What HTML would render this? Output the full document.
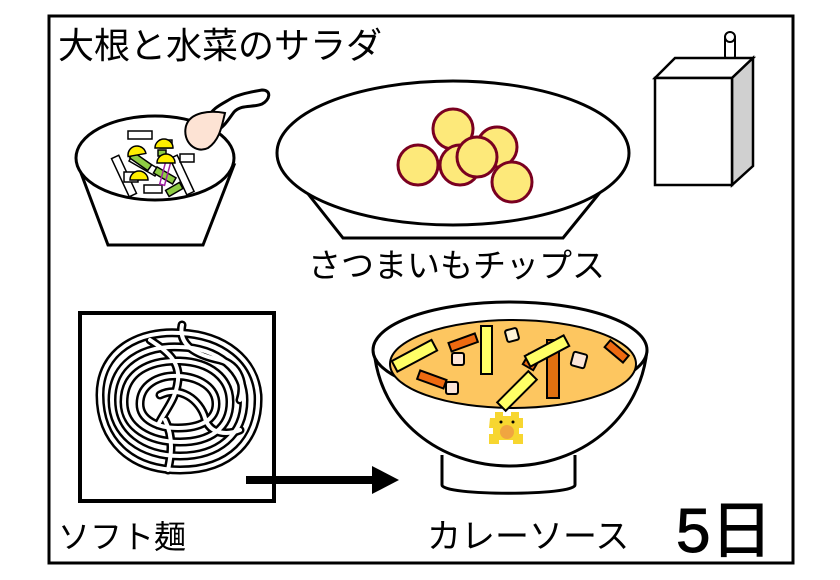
<!DOCTYPE html>
<html><head><meta charset="utf-8"><style>
html,body{margin:0;padding:0;background:#fff;}
svg{display:block}
text{font-family:"Liberation Sans","Noto Sans CJK JP",sans-serif;fill:#000}
</style></head><body>
<svg width="840" height="580" viewBox="0 0 840 580" xmlns="http://www.w3.org/2000/svg">
<rect x="49" y="16" width="744" height="547" fill="#fff" stroke="#000" stroke-width="3"/>
<text x="58" y="58" font-size="36">大根と水菜のサラダ</text>

<!-- salad bowl -->
<path d="M78 165 L108 245 L203 245 L234 165 Z" fill="#fff" stroke="#000" stroke-width="3"/>
<ellipse cx="155" cy="158" rx="79" ry="42" fill="#fff" stroke="#000" stroke-width="3"/>
<g stroke="#000" stroke-width="1.5">
<rect x="128" y="131" width="24" height="8" fill="#fff"/>
<rect x="160" y="140" width="12" height="8" fill="#fff"/>
<rect x="120" y="155" width="8" height="42" fill="#fff" transform="rotate(-25 124 176)"/>
<rect x="140" y="150" width="8" height="30" fill="#fff" transform="rotate(-60 144 165)"/>
<rect x="178" y="155" width="8" height="40" fill="#fff" transform="rotate(-25 182 175)"/>
<rect x="180" y="154" width="14" height="8" fill="#fff"/>
<rect x="124" y="172" width="14" height="10" fill="#fff"/>
<rect x="144" y="185" width="18" height="8" fill="#fff"/>
<rect x="130" y="158" width="22" height="7" fill="#8fcc44" transform="rotate(35 141 161)"/>
<rect x="154" y="172" width="22" height="7" fill="#8fcc44" transform="rotate(30 165 175)"/>
<rect x="166" y="186" width="16" height="7" fill="#8fcc44" transform="rotate(-30 174 189)"/>
<rect x="158" y="150" width="8" height="6" fill="#8fcc44"/>
<rect x="163" y="160" width="5" height="25" fill="none" stroke="#a020a0" transform="rotate(15 165 172)"/>
<path d="M128 155 a9 9 0 0 1 18 0 Z" fill="#ffee00" transform="rotate(-10 137 155)"/>
<path d="M155 148 a9 9 0 0 1 18 0 Z" fill="#ffee00"/>
<path d="M157 163 a9 9 0 0 1 18 0 Z" fill="#ffee00"/>
<path d="M130 180 a9 9 0 0 1 18 0 Z" fill="#ffee00"/>
</g>
<!-- spoon -->
<path d="M208 118 C212 108 222 104 232 98 C240 94 250 92 262 90 C272 90 270 100 262 104 C252 108 242 104 234 112 C228 120 224 128 214 132" fill="#fff" stroke="#000" stroke-width="3"/>
<path d="M186 126 C190 112 210 110 225 113 C222 125 220 140 208 148 C196 154 182 142 186 126 Z" fill="#fde3d4" stroke="#000" stroke-width="2"/>

<!-- chips plate -->
<path d="M305 190 L343 238 L563 238 L602 190 Z" fill="#fff" stroke="#000" stroke-width="3"/>
<ellipse cx="453" cy="153" rx="176" ry="72" fill="#fff" stroke="#000" stroke-width="3"/>
<g fill="#fde97a" stroke="#7a0020" stroke-width="3">
<circle cx="453" cy="129" r="20"/>
<circle cx="497" cy="147" r="20"/>
<circle cx="418" cy="165" r="20"/>
<circle cx="460" cy="165" r="20"/>
<circle cx="477" cy="157" r="20"/>
<circle cx="512" cy="182" r="20"/>
</g>
<text x="308" y="277" font-size="33">さつまいもチップス</text>

<!-- milk carton -->
<rect x="725" y="33" width="10" height="28" rx="5" fill="#fff" stroke="#000" stroke-width="2"/>
<circle cx="730" cy="37" r="5" fill="#fff" stroke="#000" stroke-width="2"/>
<path d="M655 78 L675 58 L753 58 L732 78 Z" fill="#fff" stroke="#000" stroke-width="2.5"/>
<path d="M732 78 L753 58 L753 166 L732 185 Z" fill="#d0d0d0" stroke="#000" stroke-width="2.5"/>
<rect x="655" y="78" width="77" height="107" fill="#fff" stroke="#000" stroke-width="2.5"/>

<!-- noodles -->
<rect x="80" y="313" width="194" height="188" fill="#fff" stroke="#000" stroke-width="4"/>
<g fill="none" stroke-linecap="round">
<g stroke="#000" stroke-width="9">
<path d="M100 395 C100 350 140 330 180 333 C225 335 255 360 258 395 C260 440 230 470 180 470 C130 470 100 440 100 395"/>
<path d="M112 400 C112 362 145 345 180 347 C218 348 244 370 244 400 C244 435 218 456 180 456 C142 456 112 435 112 400"/>
<path d="M124 402 C124 372 150 360 180 361 C210 362 230 378 230 402 C230 428 210 442 180 442 C150 442 124 428 124 402"/>
<path d="M140 404 C140 385 158 375 178 376 C200 377 216 388 216 404 C216 420 200 428 178 428 C158 428 140 420 140 404"/>
<path d="M182 325 C178 345 196 355 220 360 C240 365 245 385 240 400"/>
<path d="M150 340 C165 350 180 360 178 380 C176 400 165 410 158 425"/>
<path d="M160 395 C180 385 200 400 205 418 C210 435 228 435 240 430"/>
<path d="M165 420 C175 440 170 460 168 470"/>
</g>
<g stroke="#fff" stroke-width="4">
<path d="M100 395 C100 350 140 330 180 333 C225 335 255 360 258 395 C260 440 230 470 180 470 C130 470 100 440 100 395"/>
<path d="M112 400 C112 362 145 345 180 347 C218 348 244 370 244 400 C244 435 218 456 180 456 C142 456 112 435 112 400"/>
<path d="M124 402 C124 372 150 360 180 361 C210 362 230 378 230 402 C230 428 210 442 180 442 C150 442 124 428 124 402"/>
<path d="M140 404 C140 385 158 375 178 376 C200 377 216 388 216 404 C216 420 200 428 178 428 C158 428 140 420 140 404"/>
<path d="M182 325 C178 345 196 355 220 360 C240 365 245 385 240 400"/>
<path d="M150 340 C165 350 180 360 178 380 C176 400 165 410 158 425"/>
<path d="M160 395 C180 385 200 400 205 418 C210 435 228 435 240 430"/>
<path d="M165 420 C175 440 170 460 168 470"/>
</g>
</g>
<text x="58" y="548" font-size="32">ソフト麺</text>

<!-- arrow -->
<rect x="246" y="476" width="130" height="8" fill="#000"/>
<path d="M372 466 L399 480 L372 494 Z" fill="#000"/>

<!-- curry bowl -->
<path d="M442 455 L442 485 C442 496 575 496 575 485 L575 455" fill="#fff" stroke="#000" stroke-width="3"/>
<path d="M374 350 C380 420 440 466 510 466 C580 466 640 420 647 350" fill="#fff" stroke="#000" stroke-width="3"/>
<ellipse cx="510" cy="350" rx="137" ry="48" fill="#fff" stroke="#000" stroke-width="3"/>
<ellipse cx="513" cy="364" rx="123" ry="44" fill="#fdc660" stroke="#000" stroke-width="2"/>
<g stroke="#000" stroke-width="2">
<rect x="392" y="350" width="45" height="12" fill="#ffff66" transform="rotate(-28 414 356)"/>
<rect x="449" y="338" width="28" height="9" fill="#ee6a10" transform="rotate(-20 463 342)"/>
<rect x="481" y="326" width="11" height="48" fill="#ffff66"/>
<rect x="506" y="329" width="12" height="12" rx="2" fill="#fff3d8" transform="rotate(-15 512 335)"/>
<rect x="452" y="353" width="12" height="12" rx="2" fill="#fde6d8"/>
<rect x="418" y="375" width="28" height="9" fill="#ee6a10" transform="rotate(20 432 379)"/>
<rect x="446" y="382" width="12" height="12" rx="2" fill="#fde6d8"/>
<rect x="547" y="340" width="12" height="58" fill="#e07010"/>
<rect x="525" y="356" width="12" height="12" fill="#ee6a10" transform="rotate(30 531 362)"/>
<rect x="525" y="345" width="44" height="12" fill="#ffff66" transform="rotate(-28 547 351)"/>
<rect x="495" y="385" width="44" height="12" fill="#ffff66" transform="rotate(-45 517 391)"/>
<rect x="572" y="353" width="14" height="14" rx="2" fill="#fde6d8" transform="rotate(15 579 360)"/>
<rect x="605" y="347" width="24" height="9" fill="#ee6a10" transform="rotate(40 617 351)"/>
</g>
<g>
<path d="M490 418 h5 v-6 h8 v4 h8 v-4 h8 v6 h4 v10 h-4 v6 h4 v10 h-10 v-4 h-14 v4 h-10 v-10 h4 v-6 h-4 Z" fill="#f7d630"/>
<circle cx="507" cy="432" r="7" fill="#f0a540"/>
<circle cx="501" cy="422" r="1.5" fill="#000"/><circle cx="513" cy="422" r="1.5" fill="#000"/>
</g>
<text x="427" y="548" font-size="34">カレーソース</text>
<text x="676" y="552" font-size="62" stroke="#000" stroke-width="1">5日</text>
</svg>
</body></html>
